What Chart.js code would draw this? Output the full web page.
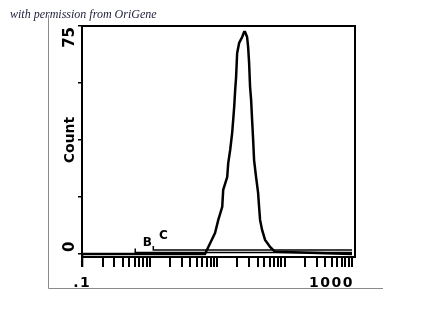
<!DOCTYPE html>
<html>
<head>
<meta charset="utf-8">
<script src="https://cdn.jsdelivr.net/npm/chart.js@4.4.1/dist/chart.umd.min.js"></script>
<style>
  body { margin: 0; background: #fff; }
  #myChart { display: block; }
</style>
</head>
<body>
<canvas id="myChart" width="447" height="311"></canvas>
<script>
// histogram outline (fluorescence channel, count)
const histX = [0.1, 6.6, 7.9, 9.3, 10.4, 11.9, 12.3, 14.1, 14.6, 15.6,
  16.7, 17.3, 17.9, 18.5, 19.1, 19.8, 21.2, 23.5, 25.1, 26.0,
  27.8, 28.8, 29.8, 30.8, 31.9, 33.0, 34.2, 35.3, 37.8, 40.5,
  41.9, 43.3, 46.4, 51.4, 61.0, 72.3, 1000];
const histCounts = [0, 0, 3.6, 6.9, 11.2, 15.5, 21.1, 25.3, 29.9, 34.2,
  39.8, 44.1, 48.4, 53.9, 58.2, 66.1, 69.4, 71.4, 73.0, 73.0,
  71.4, 68.1, 62.8, 54.9, 50.7, 44.1, 37.5, 30.9, 25.3, 20.1,
  15.5, 11.2, 7.9, 4.6, 2.3, 0.7, 0];

// region markers
const markerNames = ['B', 'C'];
const markerStart = [0.61, 1.13];
const markerEnd = [1000, 1000];
const markerLevel = [0.5, 1.3];

// axis ticks
const xTickValues = [0.1, 0.2, 0.3, 0.4, 0.5, 0.6, 0.7, 0.8, 0.9,
  1, 2, 3, 4, 5, 6, 7, 8, 9,
  10, 20, 30, 40, 50, 60, 70, 80, 90,
  100, 200, 300, 400, 500, 600, 700, 800, 900, 1000];
const xTickLabels = { 0.1: '.1', 1000: '1000' };
const yTickValues = [0, 18.75, 37.5, 56.25, 75];
const yTickLabels = { 0: '0', 75: '75' };

const histData = histX.map((x, i) => ({ x: x, y: histCounts[i] }));

const markerSets = markerNames.map((name, i) => ({
  label: name,
  data: [
    { x: markerStart[i], y: markerLevel[i] + 1.3 },
    { x: markerStart[i], y: markerLevel[i] },
    { x: markerEnd[i], y: markerLevel[i] }
  ],
  borderColor: '#000',
  borderWidth: 1.5,
  pointRadius: 0,
  tension: 0
}));

const decor = {
  id: 'decor',
  beforeDraw(chart) {
    const c = chart.ctx;
    c.save();
    c.fillStyle = '#fff';
    c.fillRect(0, 0, chart.width, chart.height);
    // scan frame
    c.strokeStyle = '#8a8a8a';
    c.lineWidth = 1;
    c.beginPath();
    c.moveTo(48.5, 15);
    c.lineTo(48.5, 288.5);
    c.lineTo(383, 288.5);
    c.stroke();
    c.fillStyle = '#1c1c3c';
    c.font = 'italic 12px "Liberation Serif"';
    c.textBaseline = 'middle';
    c.fillText('with permission from OriGene', 10, 15);
    c.restore();
  },
  afterDraw(chart) {
    const c = chart.ctx;
    const a = chart.chartArea;
    const xs = chart.scales.x;
    const ys = chart.scales.y;
    c.save();
    c.strokeStyle = '#000';
    c.lineWidth = 2;
    c.strokeRect(a.left, a.top, a.right - a.left, a.bottom - a.top);
    // first (decade) tick hangs below the frame
    const x0 = xs.getPixelForValue(xTickValues[0]);
    c.beginPath();
    c.moveTo(x0, a.bottom - 4);
    c.lineTo(x0, a.bottom + 10);
    c.stroke();

    c.fillStyle = '#000';
    // y labels, rotated
    c.font = 'bold 15px "DejaVu Sans"';
    for (const v of yTickValues) {
      if (!(v in yTickLabels)) continue;
      const py = ys.getPixelForValue(v);
      c.save();
      c.translate(70, py);
      c.rotate(-Math.PI / 2);
      c.textBaseline = 'middle';
      c.textAlign = v === 75 ? 'right' : 'left';
      c.fillText(yTickLabels[v], v === 75 ? -1 : 2, 0);
      c.restore();
    }
    c.save();
    c.translate(70, 140);
    c.rotate(-Math.PI / 2);
    c.textAlign = 'center';
    c.textBaseline = 'middle';
    c.font = 'bold 14px "DejaVu Sans"';
    c.fillText('Count', 0, 0);
    c.restore();

    // x labels
    c.font = 'bold 14px "DejaVu Sans"';
    c.letterSpacing = '1.5px';
    c.textBaseline = 'middle';
    for (const v of xTickValues) {
      if (!(v in xTickLabels)) continue;
      const px = xs.getPixelForValue(v);
      c.textAlign = v === 1000 ? 'right' : 'left';
      c.fillText(xTickLabels[v], v === 1000 ? px + 2 : px - 9, 283);
    }
    c.letterSpacing = '0px';

    // marker labels
    c.font = 'bold 12px "DejaVu Sans"';
    c.textAlign = 'center';
    markerNames.forEach((name, i) => {
      const px = xs.getPixelForValue(markerStart[i]);
      const py = ys.getPixelForValue(markerLevel[i]);
      const dy = i === 0 ? -10 : -14;
      c.fillText(name, px + (i === 0 ? 12 : 10), py + dy);
    });
    c.restore();
  }
};

const ctx = document.getElementById('myChart');
new Chart(ctx, {
  type: 'line',
  data: {
    datasets: [{
      label: 'Count',
      data: histData,
      borderColor: '#000',
      borderWidth: 2.5,
      borderJoinStyle: 'miter',
      pointRadius: 0,
      fill: false
    }, ...markerSets]
  },
  options: {
    responsive: false,
    devicePixelRatio: 1,
    animation: false,
    layout: { padding: { top: 26, right: 92, bottom: 0, left: 0 } },
    plugins: {
      legend: { display: false },
      tooltip: { enabled: false }
    },
    scales: {
      x: {
        type: 'logarithmic',
        min: 0.099,
        max: 1108,
        afterBuildTicks: (s) => { s.ticks = xTickValues.map(v => ({ value: v })); },
        afterFit: (s) => { s.height = 54; },
        border: { display: false },
        grid: { drawOnChartArea: false, tickLength: 10, color: '#000', lineWidth: 2 },
        ticks: { autoSkip: false, maxRotation: 0, callback: () => '' }
      },
      y: {
        type: 'linear',
        min: -1,
        max: 75,
        afterBuildTicks: (s) => { s.ticks = yTickValues.map(v => ({ value: v })); },
        afterFit: (s) => { s.width = 82; },
        border: { display: false },
        grid: { drawOnChartArea: false, tickLength: 4, color: '#000', lineWidth: 1.5 },
        ticks: { callback: () => '' }
      }
    }
  },
  plugins: [decor]
});
</script>
</body>
</html>
